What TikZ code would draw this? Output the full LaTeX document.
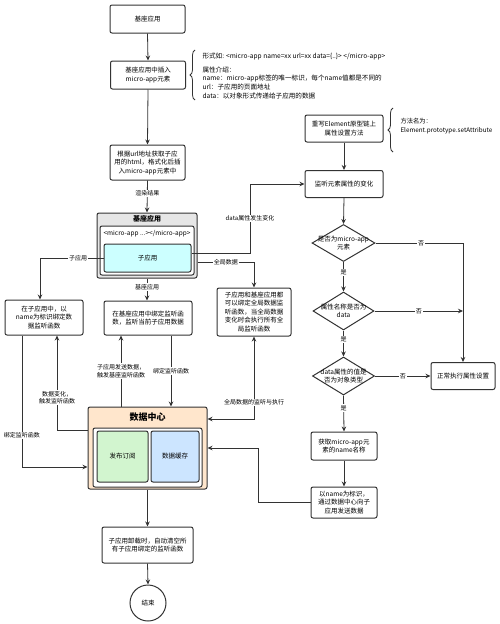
\documentclass[tikz,border=0pt]{standalone}
\usepackage{fontspec}
\setmainfont{Noto Sans CJK SC}
\usetikzlibrary{shapes.geometric,decorations.pathreplacing,arrows.meta}
\definecolor{edge}{HTML}{333333}
\definecolor{hostgray}{HTML}{E6E6E6}
\definecolor{subcyan}{HTML}{CCFFFF}
\definecolor{huborange}{HTML}{FFE6CC}
\definecolor{pubgreen}{HTML}{D2F5CF}
\definecolor{cacheblue}{HTML}{CCE5FF}

\begin{document}
\begin{tikzpicture}[x=1pt, y=-1pt,
    font=\fontsize{6.5}{8.5}\selectfont,
    box/.style={draw=edge, line width=1pt, rounded corners=2pt, fill=white,
      align=center, inner sep=1pt},
    decision/.style={diamond, draw=edge, line width=1pt, fill=white, inner sep=0pt},
    arr/.style={draw=edge, line width=0.8pt, -{Stealth[length=5pt,width=4.5pt]}},
    dblarr/.style={arr, {Stealth[length=5pt,width=4.5pt]}-{Stealth[length=5pt,width=4.5pt]}},
    lbl/.style={fill=white, inner sep=1pt, align=center, font=\fontsize{6}{7.5}\selectfont},
    brace/.style={decorate, decoration={brace, amplitude=5pt}, draw=edge, line width=0.8pt}]

  \useasboundingbox (0,0) rectangle (500,624);

  % left column
  \node[box, minimum width=75, minimum height=28] (start) at (147.5,19) {基座应用};
  \node[box, minimum width=75, minimum height=28] (insert) at (148,75) {基座应用中插入\\micro-app元素};
  \node[box, minimum width=75, minimum height=35] (fetch) at (147.5,162.5)
    {根据url地址获取子应\\用的html，格式化后插\\入micro-app元素中};

  % the host app with the child app inside
  \node[box, fill=hostgray, minimum width=100, minimum height=65] (host) at (147,245.5) {};
  \node[font=\fontsize{7}{8}\selectfont\bfseries] (hosttitle) at (147,219) {基座应用};
  \node[box, minimum width=94, minimum height=49] (tag) at (147,250.5) {};
  \node (tagtext) at (147,234) {<micro-app ...></micro-app>};
  \node[box, fill=subcyan, minimum width=87, minimum height=28] (sub) at (147.5,258) {子应用};

  \node[box, minimum width=78, minimum height=35] (bindsub) at (44,317.5)
    {在子应用中，以\\name为标识绑定数\\据监听函数};
  \node[box, minimum width=88, minimum height=34] (bindhost) at (148,318)
    {在基座应用中绑定监听函\\数，监听当前子应用数据};
  \node[box, minimum width=74, minimum height=48] (global) at (254,312)
    {子应用和基座应用都\\可以绑定全局数据监\\听函数，当全局数据\\变化时会执行所有全\\局监听函数};

  % data center
  \node[box, fill=huborange, minimum width=119, minimum height=82] (datahub) at (147.5,448) {};
  \node[font=\fontsize{9}{10}\selectfont\bfseries] (hubtitle) at (147.5,417) {数据中心};
  \node[box, minimum width=109, minimum height=59] (hubinner) at (147.5,457.5) {};
  \node[box, fill=pubgreen, minimum width=51, minimum height=51] (pubsub) at (122.5,456.5) {发布订阅};
  \node[box, fill=cacheblue, minimum width=48, minimum height=51] (cache) at (175,456.5) {数据缓存};

  \node[box, minimum width=91, minimum height=36] (unload) at (147.5,545)
    {子应用卸载时，自动清空所\\有子应用绑定的监听函数};
  \node[circle, draw=edge, line width=1pt, minimum size=36] (stop) at (148,603) {结束};

  % right column
  \node[box, minimum width=78, minimum height=27] (rewrite) at (344,128.5)
    {重写Element原型链上\\属性设置方法};
  \node[box, minimum width=78, minimum height=27] (watch) at (344,184) {监听元素属性的变化};
  \node[decision, minimum width=63, minimum height=37,
    label={[align=center]center:{是否为micro-app\\元素}}] (d1) at (343.5,243) {};
  \node[decision, minimum width=61, minimum height=38,
    label={[align=center]center:{属性名称是否为\\data}}] (d2) at (343.5,311) {};
  \node[decision, minimum width=62, minimum height=38,
    label={[align=center]center:{data属性的值是\\否为对象类型}}] (d3) at (343.5,376) {};
  \node[box, minimum width=64, minimum height=27] (normal) at (463,376) {正常执行属性设置};
  \node[box, minimum width=66, minimum height=28] (getname) at (344,446)
    {获取micro-app元\\素的name名称};
  \node[box, minimum width=66, minimum height=31] (send) at (344,502.5)
    {以name为标识，\\通过数据中心向子\\应用发送数据};

  % notes with braces
  \draw[brace] (195,100) -- (195,50);
  \node[anchor=west, align=left, font=\fontsize{6.6}{8.7}\selectfont] (attrs) at (199,76)
    {形式如: <micro-app name=xx url=xx data=\{..\}> </micro-app>\\[5pt]
     属性介绍：\\name：micro-app标签的唯一标识，每个name值都是不同的\\
     url：子应用的页面地址\\data：以对象形式传递给子应用的数据};
  \draw[brace] (393,152) -- (393,108);
  \node[anchor=west, align=left, font=\fontsize{6.3}{9}\selectfont] (method) at (397,126)
    {方法名为：\\Element.prototype.setAttribute};

  % straight arrows down the columns
  \foreach \a/\b in {start/insert, insert/fetch, rewrite/watch, watch/d1,
                     getname/send, datahub/unload, unload/stop}
    \draw[arr] (\a.south) -- (\b.north);
  \foreach \a/\b in {d1/d2, d2/d3, d3/getname}
    \draw[arr] (\a.south) -- node[lbl, pos=0.35] {是} (\b.north);

  \draw[arr] (fetch.south) -- node[lbl, pos=0.4] {渲染结果} (host.north);
  \draw[arr] (host.south) -- node[lbl, pos=0.4] {基座应用} (host.south |- bindhost.north);
  \draw[arr] (sub.west) -| node[lbl, pos=0.2] {子应用} ([xshift=-4]bindsub.north);

  \coordinate (dataturn) at (250,184);
  \draw[arr] ([yshift=5]sub.east) -| node[lbl, pos=0.75] {data属性发生变化} (dataturn) -- (watch.west);
  \draw[arr] ([yshift=-16.5]host.east) -| node[lbl, pos=0.25] {全局数据} (global.north);

  % into and out of the data center
  \draw[arr] ([xshift=23]bindhost.south) -- node[lbl] {绑定监听函数}
    ([xshift=23]bindhost.south |- datahub.north);
  \draw[arr] ([xshift=-26.5]datahub.north) -- node[lbl] {子应用发送数据，\\触发基座监听函数}
    ([xshift=-26.5]datahub.north |- bindhost.south);
  \draw[arr] ([yshift=18]datahub.west) -| node[lbl, pos=0.67] {数据变化，\\触发监听函数}
    ([xshift=13]bindsub.south);
  \draw[arr] ([xshift=-22]bindsub.south) |- node[lbl, pos=0.38] {绑定监听函数}
    ([yshift=-19]datahub.west);
  \draw[dblarr] ([yshift=29]datahub.east) -| node[lbl, pos=0.6] {全局数据的监听与执行} (global.south);

  \coordinate (sendturn) at (258,448);
  \draw[arr] (send.west) -| (sendturn) -- (datahub.east);

  % the no branches
  \draw[arr] (d1.east) -| node[lbl, pos=0.26] {否} (normal.north);
  \draw[arr] (d2.east) -- node[lbl] {否} (d2.east -| normal.north);
  \draw[arr] (d3.east) -- node[lbl] {否} (normal.west);
\end{tikzpicture}
\end{document}
